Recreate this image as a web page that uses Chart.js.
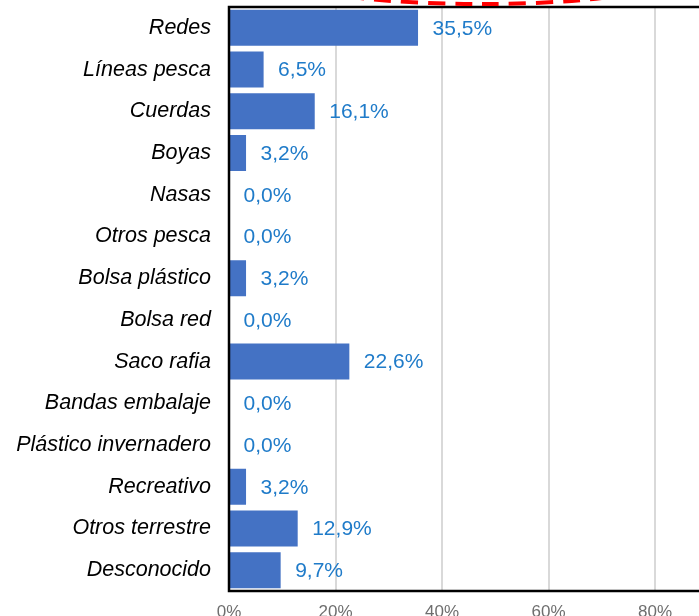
<!DOCTYPE html>
<html>
<head>
<meta charset="utf-8">
<script src="https://cdn.jsdelivr.net/npm/chart.js@4"></script>
<style>
  html, body { margin: 0; padding: 0; background: #fff; overflow: hidden; }
  #wrap { width: 699px; height: 616px; overflow: hidden; }
  canvas { display: block; }
</style>
</head>
<body>
<div id="wrap"><canvas id="c" width="790" height="616"></canvas></div>
<script>
const categories = ["Redes", "Líneas pesca", "Cuerdas", "Boyas", "Nasas", "Otros pesca", "Bolsa plástico", "Bolsa red", "Saco rafia", "Bandas embalaje", "Plástico invernadero", "Recreativo", "Otros terrestre", "Desconocido"];
const percentages = [35.5, 6.5, 16.1, 3.2, 0.0, 0.0, 3.2, 0.0, 22.6, 0.0, 0.0, 3.2, 12.9, 9.7];
const xTickValues = [0, 20, 40, 60, 80, 100];

const FONT = "'Liberation Sans', Arial, Helvetica, sans-serif";

const frameAndLabels = {
  id: 'frameAndLabels',
  afterDatasetsDraw(chart) {
    const ctx = chart.ctx;
    const meta = chart.getDatasetMeta(0);
    const data = chart.data.datasets[0].data;
    ctx.save();
    ctx.font = "21px " + FONT;
    ctx.fillStyle = '#1F7BC9';
    ctx.textAlign = 'left';
    ctx.textBaseline = 'middle';
    meta.data.forEach((bar, i) => {
      const txt = data[i].toFixed(1).replace('.', ',') + '%';
      ctx.fillText(txt, bar.x + 14.5, bar.y + 1);
    });
    ctx.restore();
  },
  afterDraw(chart) {
    const ctx = chart.ctx;
    const a = chart.chartArea;
    ctx.save();
    ctx.strokeStyle = '#000';
    ctx.lineWidth = 2.5;
    ctx.strokeRect(a.left, a.top, a.right - a.left, a.bottom - a.top);
    // red dashed annotation ellipse (partly above the view)
    ctx.strokeStyle = '#FF0000';
    ctx.lineWidth = 4;
    ctx.setLineDash([17, 10]);
    ctx.beginPath();
    ctx.ellipse(481, -18, 176, 22, 0, 0, Math.PI * 2);
    ctx.stroke();
    ctx.restore();
  }
};

new Chart(document.getElementById('c'), {
  type: 'bar',
  data: {
    labels: categories,
    datasets: [{
      data: percentages,
      backgroundColor: '#4472C4',
      borderWidth: 0,
      barPercentage: 0.863,
      categoryPercentage: 1.0
    }]
  },
  options: {
    indexAxis: 'y',
    responsive: false,
    animation: false,
    events: [],
    layout: { padding: { top: 7, left: 0, right: 28.5, bottom: 0 } },
    plugins: { legend: { display: false }, tooltip: { enabled: false }, title: { display: false } },
    scales: {
      x: {
        min: 0,
        max: 100,
        afterBuildTicks(scale) { scale.ticks = xTickValues.map(v => ({ value: v })); },
        afterFit(scale) { scale.height = 25; scale.paddingLeft = 0; scale.paddingRight = 0; },
        grid: { color: '#D9D9D9', lineWidth: 2, drawTicks: false },
        border: { display: false },
        ticks: {
          padding: 11,
          color: '#6E6E6E',
          font: { family: FONT, size: 17 },
          callback: v => v + '%'
        }
      },
      y: {
        afterFit(scale) { scale.width = 229; scale.paddingTop = 0; scale.paddingBottom = 0; },
        grid: { display: false, drawTicks: false },
        border: { display: false },
        ticks: {
          padding: 18,
          color: '#000000',
          font: { family: FONT, size: 21.5, style: 'italic' }
        }
      }
    }
  },
  plugins: [frameAndLabels]
});
</script>
</body>
</html>
